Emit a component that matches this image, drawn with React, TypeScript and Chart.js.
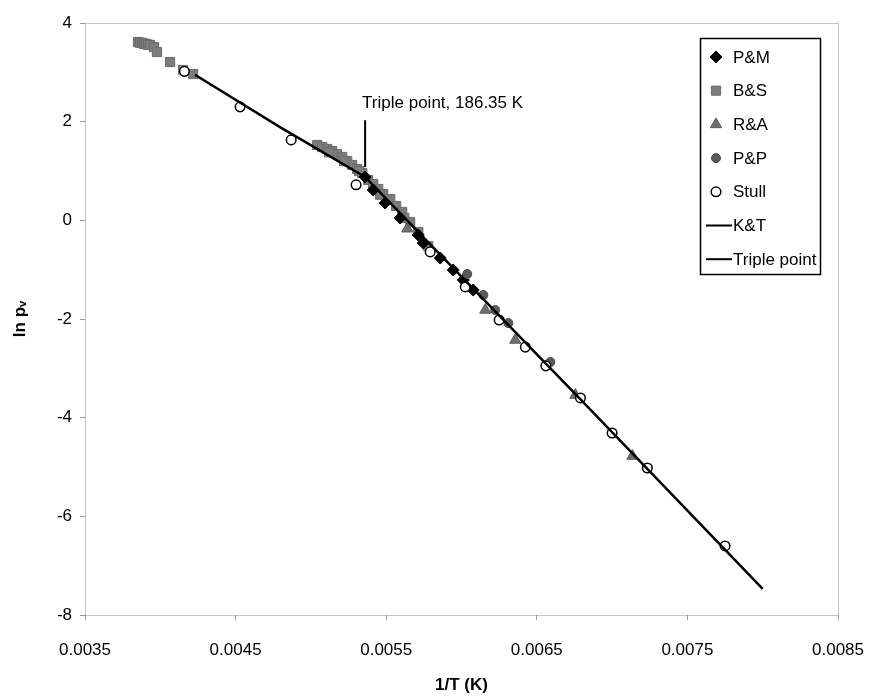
import React, { useEffect, useRef } from "react";
import { Chart, registerables } from "chart.js";

Chart.register(...registerables);

// ---------- data ----------
const xTickValues = [0.0035, 0.0045, 0.0055, 0.0065, 0.0075, 0.0085];
const yTickValues = [-8, -6, -4, -2, 0, 2, 4];

const pmX = [0.00536, 0.005414, 0.005493, 0.005593, 0.005713, 0.005746, 0.005859, 0.005945, 0.006012, 0.006078];
const pmY = [0.878, 0.615, 0.351, 0.047, -0.298, -0.46, -0.764, -1.007, -1.21, -1.413];

const bsX = [0.003852, 0.003866, 0.003879, 0.003892, 0.003905, 0.003918, 0.003932, 0.003958, 0.003978, 0.004065, 0.004151, 0.004218,
  0.005042, 0.005075, 0.005108, 0.005141, 0.005174, 0.005208, 0.005241, 0.005274, 0.005307, 0.005341,
  0.00538, 0.005414, 0.005447, 0.00548, 0.005527, 0.005566, 0.005606, 0.005659, 0.005713, 0.005779,
  0.00512, 0.00522, 0.00532, 0.00546, 0.00562];
const bsY = [3.615, 3.6, 3.595, 3.58, 3.574, 3.56, 3.554, 3.513, 3.412, 3.209, 3.047, 2.966,
  1.527, 1.486, 1.446, 1.405, 1.344, 1.284, 1.203, 1.122, 1.04, 0.959,
  0.817, 0.736, 0.635, 0.533, 0.432, 0.29, 0.169, -0.034, -0.237, -0.521,
  1.38, 1.2, 1.0, 0.52, 0.05];

const raX = [0.00564, 0.006158, 0.006357, 0.006756, 0.007135];
const raY = [-0.17, -1.818, -2.426, -3.541, -4.778];

const ppX = [0.006038, 0.006145, 0.006224, 0.006311, 0.00659];
const ppY = [-1.088, -1.514, -1.818, -2.082, -2.872];

const stullX = [0.00416, 0.00453, 0.004869, 0.0053, 0.005792, 0.006025, 0.00625, 0.006424, 0.00656, 0.00679, 0.007, 0.007234, 0.00775];
const stullY = [3.02, 2.3, 1.63, 0.72, -0.64, -1.35, -2.02, -2.57, -2.95, -3.6, -4.31, -5.02, -6.6];

const ktX = [0.00423, 0.0048, 0.00536, 0.006, 0.0068, 0.008];
const ktY = [2.95, 1.88, 0.88, -1.14, -3.66, -7.47];

const tripleX = [0.00536, 0.00536];
const tripleY = [2.03, 1.08];

const tripleLabel = "Triple point, 186.35 K";
const tripleLabelX = 0.00534;
const tripleLabelY = 2.28;

const xTitle = "1/T (K)";
const yTitle = "ln p\u1D65";

// ---------- helpers ----------
const zip = (xs: number[], ys: number[]) => xs.map((x, i) => ({ x, y: ys[i] }));

const FONT = "'Liberation Sans', Arial, sans-serif";

type Entry = {
  label: string;
  kind: "point" | "line";
  style?: string;
  fill?: string;
  stroke?: string;
  r?: number;
  bw?: number;
};

const legendEntries: Entry[] = [
  { label: "P&M", kind: "point", style: "rectRot", fill: "#000", stroke: "#000", r: 6, bw: 1 },
  { label: "B&S", kind: "point", style: "rect", fill: "#7c7c7c", stroke: "#6c6c6c", r: 6.5, bw: 1 },
  { label: "R&A", kind: "point", style: "triangle", fill: "#6e6e6e", stroke: "#5e5e5e", r: 6.5, bw: 1 },
  { label: "P&P", kind: "point", style: "circle", fill: "#5a5a5a", stroke: "#4a4a4a", r: 4.5, bw: 1 },
  { label: "Stull", kind: "point", style: "circle", fill: "#fff", stroke: "#000", r: 4.8, bw: 1.5 },
  { label: "K&T", kind: "line" },
  { label: "Triple point", kind: "line" },
];

function drawMarker(ctx: CanvasRenderingContext2D, e: Entry, x: number, y: number) {
  const r = e.r || 5;
  ctx.save();
  ctx.fillStyle = e.fill || "#000";
  ctx.strokeStyle = e.stroke || "#000";
  ctx.lineWidth = e.bw || 1;
  ctx.beginPath();
  if (e.style === "rect") {
    const s = r * Math.SQRT1_2;
    ctx.rect(x - s, y - s, 2 * s, 2 * s);
  } else if (e.style === "rectRot") {
    ctx.moveTo(x, y - r);
    ctx.lineTo(x + r, y);
    ctx.lineTo(x, y + r);
    ctx.lineTo(x - r, y);
    ctx.closePath();
  } else if (e.style === "triangle") {
    ctx.moveTo(x, y - r);
    ctx.lineTo(x + (Math.sqrt(3) / 2) * r, y + r / 2);
    ctx.lineTo(x - (Math.sqrt(3) / 2) * r, y + r / 2);
    ctx.closePath();
  } else {
    ctx.arc(x, y, r, 0, Math.PI * 2);
  }
  ctx.fill();
  ctx.stroke();
  ctx.restore();
}

const decorPlugin = {
  id: "decor",
  beforeDatasetsDraw(chart: any) {
    const { ctx, chartArea: a } = chart;
    ctx.save();
    ctx.strokeStyle = "#8c8c8c";
    ctx.lineWidth = 1;
    ctx.setLineDash([1, 1]);
    ctx.strokeRect(Math.round(a.left) + 0.5, Math.round(a.top) + 0.5, Math.round(a.right - a.left), Math.round(a.bottom - a.top));
    ctx.restore();
  },
  afterDraw(chart: any) {
    const { ctx } = chart;
    const xs = chart.scales.x;
    const ys = chart.scales.y;
    // annotation
    ctx.save();
    ctx.fillStyle = "#000";
    ctx.font = `17px ${FONT}`;
    ctx.textAlign = "left";
    ctx.textBaseline = "alphabetic";
    ctx.fillText(tripleLabel, xs.getPixelForValue(tripleLabelX), ys.getPixelForValue(tripleLabelY));
    ctx.restore();

    // legend
    const bx = 700, by = 38, bw = 120, bh = 236;
    ctx.save();
    ctx.fillStyle = "#fff";
    ctx.fillRect(bx, by, bw, bh);
    ctx.strokeStyle = "#000";
    ctx.lineWidth = 1.5;
    ctx.strokeRect(bx + 0.5, by + 0.5, bw, bh);
    ctx.font = `17px ${FONT}`;
    ctx.textBaseline = "middle";
    ctx.textAlign = "left";
    const rowH = 33.7;
    legendEntries.forEach((e, i) => {
      const cy = by + 19 + i * rowH;
      if (e.kind === "line") {
        ctx.save();
        ctx.strokeStyle = "#000";
        ctx.lineWidth = 2;
        ctx.beginPath();
        ctx.moveTo(706, cy);
        ctx.lineTo(732, cy);
        ctx.stroke();
        ctx.restore();
      } else {
        drawMarker(ctx, e, 716, cy);
      }
      ctx.fillStyle = "#000";
      ctx.fillText(e.label, 733, cy + 1);
    });
    ctx.restore();
  },
};

function pointDs(label: string, data: { x: number; y: number }[], e: Entry, order: number) {
  return {
    label,
    data,
    type: "scatter" as const,
    showLine: false,
    pointStyle: e.style,
    pointRadius: e.r,
    pointBackgroundColor: e.fill,
    pointBorderColor: e.stroke,
    pointBorderWidth: e.bw,
    order,
  };
}

export default function App() {
  const ref = useRef<HTMLCanvasElement | null>(null);

  useEffect(() => {
    if (!ref.current) return;
    const chart = new Chart(ref.current, {
      type: "scatter",
      data: {
        datasets: [
          pointDs("P&M", zip(pmX, pmY), legendEntries[0], 6),
          pointDs("B&S", zip(bsX, bsY), legendEntries[1], 7),
          pointDs("R&A", zip(raX, raY), legendEntries[2], 5),
          pointDs("P&P", zip(ppX, ppY), legendEntries[3], 4),
          pointDs("Stull", zip(stullX, stullY), legendEntries[4], 3),
          {
            label: "K&T",
            data: zip(ktX, ktY),
            type: "scatter" as const,
            showLine: true,
            borderColor: "#000",
            borderWidth: 2.5,
            pointRadius: 0,
            tension: 0,
            order: 1,
          },
          {
            label: "Triple point",
            data: zip(tripleX, tripleY),
            type: "scatter" as const,
            showLine: true,
            borderColor: "#000",
            borderWidth: 2,
            pointRadius: 0,
            order: 0,
          },
        ] as any,
      },
      options: {
        animation: false,
        responsive: false,
        maintainAspectRatio: false,
        layout: { padding: { left: 0, top: 23, right: 36, bottom: 0 } },
        plugins: {
          legend: { display: false },
          tooltip: { enabled: false },
        },
        scales: {
          x: {
            type: "linear",
            min: 0.0035,
            max: 0.0085,
            afterBuildTicks: (s: any) => {
              s.ticks = xTickValues.map((v) => ({ value: v }));
            },
            afterFit: (s: any) => {
              s.height = 85;
              s.paddingLeft = 0;
              s.paddingRight = 0;
            },
            grid: { drawOnChartArea: false, drawTicks: true, tickLength: 5, color: "#9a9a9a" },
            border: { display: false },
            ticks: {
              color: "#000",
              font: { family: FONT, size: 17 },
              padding: 20,
              maxRotation: 0,
              callback: (v: any) => Number(v).toFixed(4),
            },
            title: {
              display: true,
              text: xTitle,
              color: "#000",
              font: { family: FONT, size: 17, weight: "bold" },
              padding: { top: 0, bottom: 4 },
            },
          },
          y: {
            type: "linear",
            min: -8,
            max: 4,
            afterBuildTicks: (s: any) => {
              s.ticks = yTickValues.map((v) => ({ value: v }));
            },
            afterFit: (s: any) => {
              s.width = 85;
              s.paddingTop = 0;
              s.paddingBottom = 0;
            },
            grid: { drawOnChartArea: false, drawTicks: true, tickLength: 5, color: "#9a9a9a" },
            border: { display: false },
            ticks: {
              color: "#000",
              font: { family: FONT, size: 17 },
              padding: 8,
              callback: (v: any) => String(v),
            },
            title: {
              display: true,
              text: yTitle,
              color: "#000",
              font: { family: FONT, size: 17, weight: "bold" },
              padding: { top: 10, bottom: 0 },
            },
          },
        },
      } as any,
      plugins: [decorPlugin],
    });
    return () => chart.destroy();
  }, []);

  return (
    <div style={{ position: "absolute", left: 0, top: 0, width: 874, height: 700, background: "#fff" }}>
      <canvas ref={ref} width={874} height={700} style={{ width: 874, height: 700, display: "block" }} />
    </div>
  );
}
